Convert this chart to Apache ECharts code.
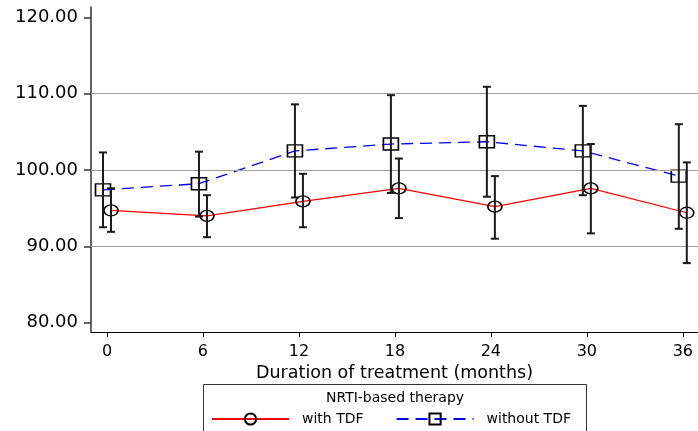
<!DOCTYPE html>
<html>
<head>
<meta charset="utf-8">
<script src="https://cdn.jsdelivr.net/npm/echarts@6/dist/echarts.min.js"></script>
<style>
html,body{margin:0;padding:0;background:#fff;}
#chart{width:698px;height:431px;}
</style>
</head>
<body>
<div id="chart"></div>
<script>
// ---- data ----
const months = [0, 6, 12, 18, 24, 30, 36];
const xTicks = [0, 6, 12, 18, 24, 30, 36];
const yTicks = [80, 90, 100, 110, 120];
const gridValues = [90, 100, 110];

const withTDF     = [94.7, 94.0, 95.9, 97.6, 95.2, 97.6, 94.4];
const withTDFLow  = [91.9, 91.2, 92.5, 93.7, 91.0, 91.7, 87.8];
const withTDFHigh = [97.6, 96.7, 99.5, 101.5, 99.2, 103.4, 101.0];

const withoutTDF     = [97.4, 98.2, 102.5, 103.4, 103.7, 102.5, 99.2];
const withoutTDFLow  = [92.5, 93.9, 96.4, 97.0, 96.5, 96.7, 92.3];
const withoutTDFHigh = [102.3, 102.4, 108.6, 109.8, 110.9, 108.4, 106.0];

const legendTitle = 'NRTI-based therapy';
const seriesNames = ['with TDF', 'without TDF'];
const xAxisTitle = 'Duration of treatment (months)';

// ---- styling ----
const FONT = 'DejaVu Sans';
const dodge = 0.25;

const chart = echarts.init(document.getElementById('chart'), null, {renderer: 'canvas'});

function errorBarSeries(offset, low, high) {
  return {
    type: 'custom',
    silent: true,
    z: 5,
    data: months.map((m, i) => [m + offset, low[i], high[i]]),
    encode: {x: 0, y: [1, 2]},
    renderItem: function (params, api) {
      const x = api.value(0);
      const lo = api.coord([x, api.value(1)]);
      const hi = api.coord([x, api.value(2)]);
      const w = 4;
      const st = {stroke: '#1a1a1a', lineWidth: 2};
      return {
        type: 'group',
        children: [
          {type: 'line', shape: {x1: lo[0], y1: lo[1], x2: hi[0], y2: hi[1]}, style: st},
          {type: 'line', shape: {x1: lo[0] - w, y1: lo[1], x2: lo[0] + w, y2: lo[1]}, style: st},
          {type: 'line', shape: {x1: hi[0] - w, y1: hi[1], x2: hi[0] + w, y2: hi[1]}, style: st}
        ]
      };
    }
  };
}

const option = {
  backgroundColor: '#fff',
  animation: false,
  grid: {left: 91, right: 0, top: 7, bottom: 99, containLabel: false, outerBoundsMode: 'none'},
  xAxis: {
    type: 'value',
    min: -1,
    max: 36.95,
    name: xAxisTitle,
    nameLocation: 'middle',
    nameGap: 26,
    nameTextStyle: {fontFamily: FONT, fontSize: 17.5, color: '#000'},
    axisLine: {show: true, onZero: false, lineStyle: {color: '#000', width: 1}},
    axisTick: {show: true, length: 5, inside: false, customValues: xTicks, lineStyle: {color: '#000', width: 1}},
    axisLabel: {show: true, margin: 12, customValues: xTicks, fontFamily: FONT, fontSize: 16, color: '#000'},
    splitLine: {show: false}
  },
  yAxis: {
    type: 'value',
    min: 78.78,
    max: 121.35,
    axisLine: {show: true, onZero: false, lineStyle: {color: '#333', width: 1.5}},
    axisTick: {show: true, length: 7, inside: false, customValues: yTicks, lineStyle: {color: '#333', width: 1.5}},
    axisLabel: {show: true, margin: 13, customValues: yTicks, fontFamily: FONT, fontSize: 18, color: '#000',
      formatter: v => Number(v).toFixed(2)},
    splitLine: {show: false}
  },
  legend: {
    data: seriesNames,
    left: 211,
    top: 412,
    itemWidth: 77,
    itemHeight: 14,
    itemGap: 32,
    padding: 0,
    textStyle: {fontFamily: FONT, fontSize: 14, color: '#000', padding: [0, 0, 0, 8]}
  },
  graphic: [
    {type: 'rect', shape: {x: 203.5, y: 384.5, width: 383, height: 80}, style: {fill: 'none', stroke: '#333', lineWidth: 1}, silent: true},
    {type: 'text', x: 395, y: 391, style: {text: legendTitle, font: '14px "DejaVu Sans"', fill: '#000', textAlign: 'center', textVerticalAlign: 'top'}, silent: true}
  ],
  series: [
    {
      name: seriesNames[0],
      type: 'line',
      z: 3,
      data: months.map((m, i) => [m + dodge, withTDF[i]]),
      symbol: 'circle',
      symbolSize: [14, 11],
      lineStyle: {color: '#ff0000', width: 1.2, type: 'solid'},
      itemStyle: {color: 'rgba(255,255,255,0)', borderColor: '#000', borderWidth: 1.5},
      markLine: {
        silent: true,
        symbol: 'none',
        label: {show: false},
        lineStyle: {color: '#a0a0a0', width: 1.2, type: 'solid'},
        data: gridValues.map(v => ({yAxis: v}))
      }
    },
    {
      name: seriesNames[1],
      type: 'line',
      z: 3,
      data: months.map((m, i) => [m - dodge, withoutTDF[i]]),
      symbol: 'rect',
      symbolSize: [15, 12],
      lineStyle: {color: '#0000ff', width: 1.3, type: [12, 7]},
      itemStyle: {color: 'rgba(255,255,255,0)', borderColor: '#000', borderWidth: 1.5}
    },
    errorBarSeries(dodge, withTDFLow, withTDFHigh),
    errorBarSeries(-dodge, withoutTDFLow, withoutTDFHigh)
  ]
};

chart.setOption(option);
</script>
</body>
</html>
